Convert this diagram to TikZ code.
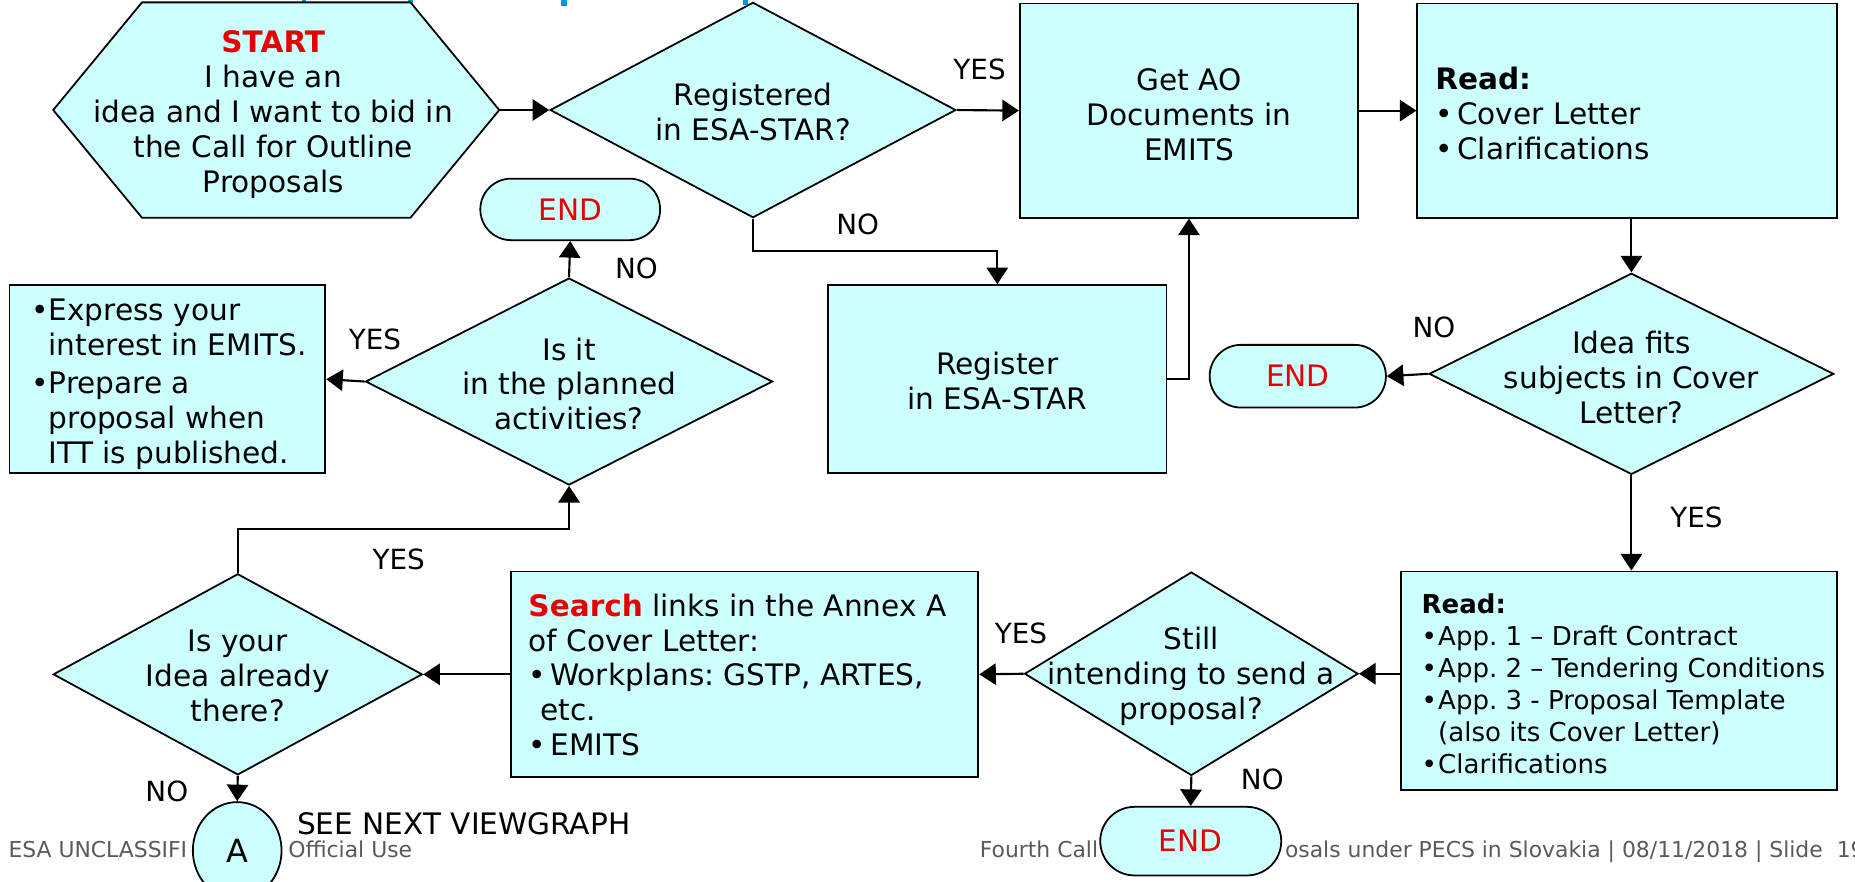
\documentclass[tikz,border=0pt]{standalone}
\usepackage{fontspec}
\setmainfont{DejaVu Sans}
\usetikzlibrary{shapes.geometric,shapes.misc,arrows.meta,calc}
\definecolor{boxfill}{RGB}{204,255,255}
\definecolor{myred}{RGB}{230,0,0}
\definecolor{footgray}{RGB}{90,90,90}
\definecolor{titleblue}{RGB}{0,150,215}
\newcommand{\bl}{\makebox[18.5pt][l]{•}}
\newcommand{\ind}{\makebox[18.5pt]{}}
\newcommand{\ble}{\makebox[14.5pt][l]{•}}
\newcommand{\inde}{\makebox[14.5pt]{}}
\newcommand{\bls}{\makebox[14pt][l]{•}}
\newcommand{\inds}{\makebox[14pt]{}}
\frenchspacing
\begin{document}
\frenchspacing
\begin{tikzpicture}[x=1pt,y=-1pt,line join=miter,
  shapebase/.style={draw=black,line width=1.5pt,fill=boxfill,inner sep=0pt},
  dia/.style={shapebase,diamond},
  pill/.style={shapebase,rounded rectangle,text=myred,font=\fontsize{25}{29.5}\selectfont},
  boxnode/.style={shapebase,rectangle},
  txt/.style={font=\fontsize{25}{29.5}\selectfont,align=center,inner sep=0pt},
  plain/.style={font=\fontsize{25}{29.5}\selectfont,inner sep=0pt},
  lbl/.style={font=\fontsize{23.5}{28}\selectfont,inner sep=0pt},
  arr/.style={line width=1.8pt,-{Triangle[width=18pt,length=14pt]}},
  foot/.style={font=\fontsize{18.5}{20}\selectfont,text=footgray,inner sep=0pt,anchor=base west}]
\useasboundingbox (0,0) rectangle (1568,745);
% title fragments
\fill[titleblue] (255,0) rectangle (259,3);
\fill[titleblue] (345,0) rectangle (349,3);
\fill[titleblue] (474,0) rectangle (479,5);
\fill[titleblue] (628,0) rectangle (632,4);
% footer
\node[foot] (f1) at (7,725) {ESA UNCLASSIFI};
\node[foot] (f2) at (243.5,725) {Official Use};
\node[foot] (f3) at (828,725) {Fourth Call};
\node[foot] (f4) at (1086,725) {osals under PECS in Slovakia | 08/11/2018 | Slide\ \ 19};
% hexagon start
\draw[shapebase] (45,93) -- (120,2) -- (347,2) -- (422,93) -- (347,184) -- (120,184) -- cycle;
\coordinate (hexR) at (422,93);
\node[txt] (start) at (231,97) {{\bfseries\color{myred}START}\\I have an\\idea and I want to bid in\\the Call for Outline\\Proposals};
% shapes
\node[dia,minimum width=343pt,minimum height=182pt] (d1) at (636.5,93) {};
\node[txt] (d1t) at (636.5,95) {Registered\\in ESA-STAR?};
\node[boxnode,minimum width=286pt,minimum height=181pt] (getao) at (1005,93.5) {};
\node[txt] (getaot) at (1005,97) {Get AO\\Documents in\\EMITS};
\node[boxnode,minimum width=355pt,minimum height=181pt] (read1) at (1375.5,93.5) {};
\node[txt,align=left,anchor=west] (read1t) at (1213,96) {\textbf{Read:}\\\bl Cover Letter\\\bl Clarifications};
\node[dia,minimum width=342pt,minimum height=170pt] (d2) at (1379,316) {};
\node[txt] (d2t) at (1379,319) {Idea fits\\subjects in Cover\\Letter?};
\node[pill,minimum width=149pt,minimum height=53pt] (end2) at (1097,318) {END};
\node[boxnode,minimum width=286pt,minimum height=159pt] (reg) at (843,320.5) {};
\node[txt] (regt) at (843,322) {Register\\in ESA-STAR};
\node[dia,minimum width=344pt,minimum height=175pt] (d5) at (481,322.5) {};
\node[txt] (d5t) at (481,324.5) {Is it\\in the planned\\activities?};
\node[pill,minimum width=152pt,minimum height=52pt] (end1) at (482,177) {END};
\node[boxnode,minimum width=267pt,minimum height=159pt] (express) at (141.5,320.5) {};
\node[txt,align=left,anchor=west] (expresst) at (26.5,325) {\ble Express your\\\inde interest in EMITS.\\[3pt]\ble Prepare a\\\inde proposal when\\\inde ITT is published.};
\node[boxnode,minimum width=369pt,minimum height=185pt] (read2) at (1368.5,575.5) {};
\node[font=\fontsize{22}{27}\selectfont,align=left,anchor=west,inner sep=0pt] (read2t) at (1201.5,578) {\textbf{Read:}\\\bls App. 1 – Draft Contract\\\bls App. 2 – Tendering Conditions\\\bls App. 3 - Proposal Template\\\inds (also its Cover Letter)\\\bls Clarifications};
\node[dia,minimum width=282pt,minimum height=172pt] (d3) at (1007,569.5) {};
\node[txt] (d3t) at (1007,571.5) {Still\\intending to send a\\proposal?};
\node[pill,minimum width=153pt,minimum height=58pt] (end3) at (1006.5,711) {END};
\node[boxnode,minimum width=395pt,minimum height=174pt] (search) at (629.5,570) {};
\node[txt,align=left,anchor=west] (searcht) at (446.5,570.5) {{\bfseries\color{myred}Search} links in the Annex A\\of Cover Letter:\\\bl Workplans: GSTP, ARTES,\\\makebox[10pt]{}etc.\\\bl EMITS};
\node[dia,minimum width=312pt,minimum height=170pt] (d4) at (201,570) {};
\node[txt] (d4t) at (201,571.5) {Is your\\Idea already\\there?};
\node[shapebase,ellipse,minimum width=75pt,minimum height=82pt,font=\fontsize{27}{30}\selectfont] (A) at (200.5,719) {A};
\node[plain,anchor=base west] (seenext) at (251,705.5) {SEE NEXT VIEWGRAPH};
% connectors
\draw[arr] (hexR) -- (d1.west);
\draw[arr] (d1.east) -- (getao.west);
\draw[arr] (getao.east) -- (read1.west);
\draw[arr] (d2.north |- read1.south) -- (d2.north);
\draw[arr] (d2.west) -- (end2.east);
\draw[arr] (d2.south) -- (d2.south |- read2.north);
\draw[arr] (read2.west |- d3.east) -- (d3.east);
\draw[arr] (d3.west) -- (search.east);
\draw[arr] (d3.south) -- (end3.north);
\draw[arr] (search.west) -- (d4.east);
\draw[arr] (d4.south) -- (A.north);
\draw[arr] (d4.north) -- (d4.north |- 0,447) -| (d5.south);
\draw[arr] (d5.north) -- (end1.south);
\draw[arr] (d5.west) -- (express.east);
\draw[arr] (d1.south) -- (d1.south |- 0,212) -| (reg.north);
\draw[arr] (reg.east) -| (getao.south);
% labels
\node[lbl] (l1) at (828,59) {YES};
\node[lbl] (l2) at (725,190) {NO};
\node[lbl] (l3) at (538,227) {NO};
\node[lbl] (l4) at (317,287) {YES};
\node[lbl] (l5) at (1212,277) {NO};
\node[lbl] (l6) at (1434,437) {YES};
\node[lbl] (l7) at (863,535) {YES};
\node[lbl] (l8) at (1067,659) {NO};
\node[lbl] (l9) at (337,473) {YES};
\node[lbl] (l10) at (141,669) {NO};
\end{tikzpicture}
\end{document}
